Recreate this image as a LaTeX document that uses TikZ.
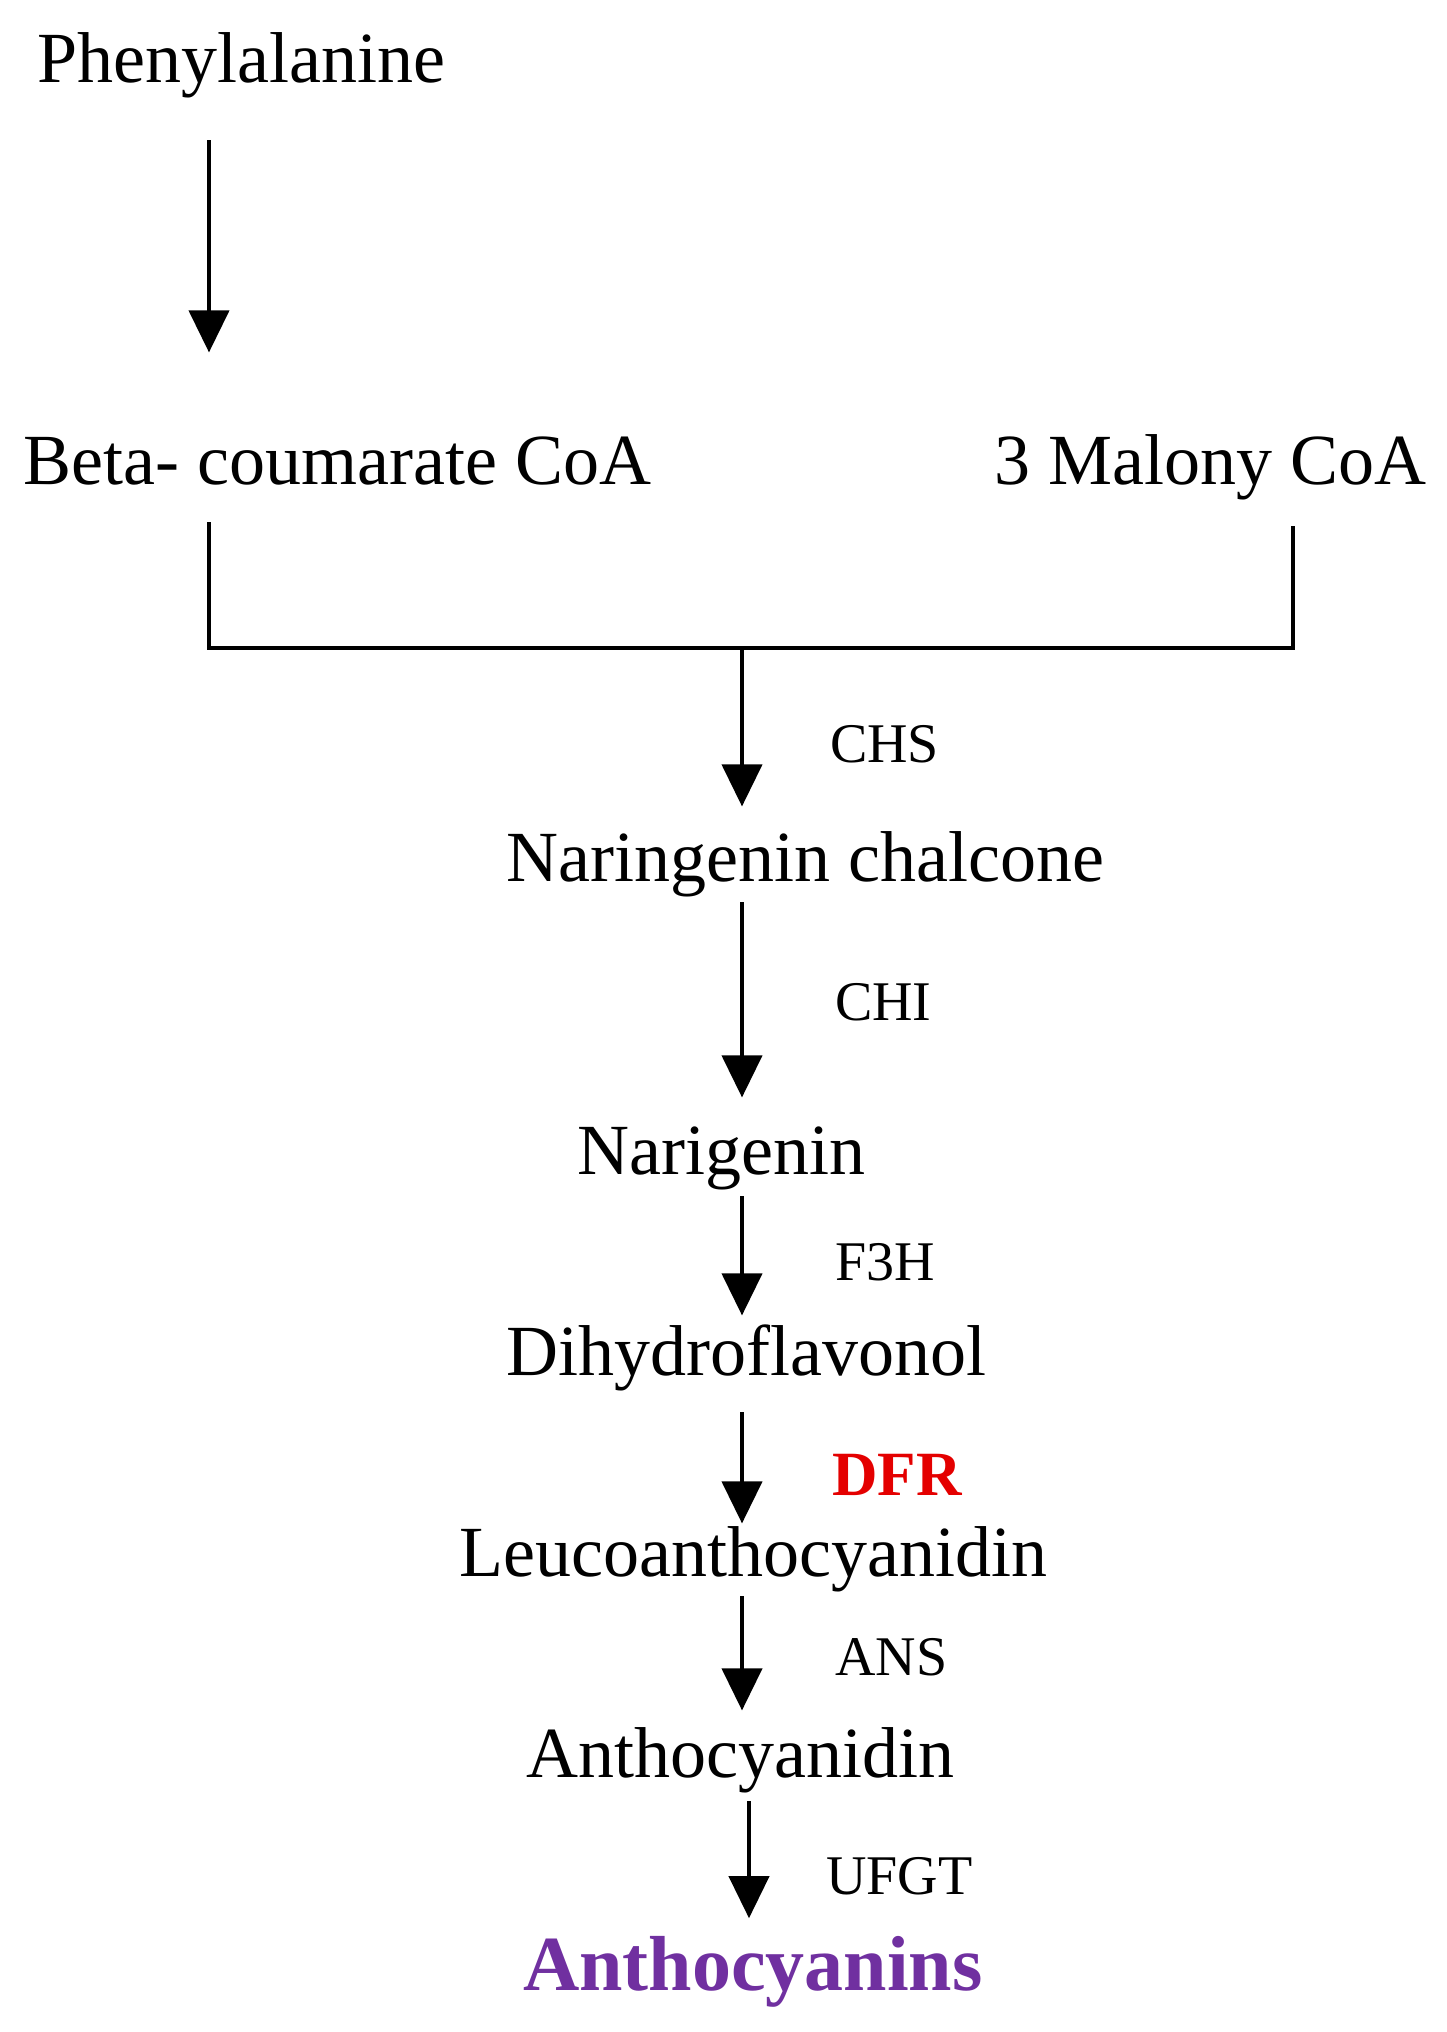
\documentclass[tikz,border=0pt]{standalone}
\usepackage{fontspec}
\setmainfont{Liberation Serif}
\usetikzlibrary{arrows.meta,calc}
\definecolor{dfrred}{RGB}{228,0,0}
\definecolor{anthopurple}{RGB}{112,48,160}
\tikzset{
  chem/.style={anchor=base west, inner sep=0pt, text height=50.4pt, text depth=15.8pt,
               font=\fontsize{72pt}{80pt}\selectfont},
  enz/.style={anchor=base west, inner sep=0pt,
              font=\fontsize{56pt}{62pt}\selectfont},
  conn/.style={line width=4pt, draw=black},
  arr/.style={conn, -{Triangle[length=42pt,width=40pt]}}
}
\begin{document}
\begin{tikzpicture}[x=1pt,y=-1pt]
\useasboundingbox (0,0) rectangle (1447,2032);
% column coordinates
\coordinate (colL) at (209,0);
\coordinate (colR) at (1293,0);
\coordinate (colC) at (742,0);
\coordinate (colD) at (749,0);
% compounds
\node[chem] (phe) at (37,82) {Phenylalanine};
\node[chem] (beta) at (23,484) {Beta- coumarate CoA};
\node[chem] (mal) at (994,484) {3 Malony CoA};
\node[chem] (nch) at (506,881) {Naringenin chalcone};
\node[chem] (nar) at (577,1174) {Narigenin};
\node[chem] (dhf) at (506,1375) {Dihydroflavonol};
\node[chem] (leu) at (459,1576) {Leucoanthocyanidin};
\node[chem] (acd) at (526,1777) {Anthocyanidin};
\node[chem, text height=54.6pt, text depth=17.2pt, font=\fontsize{78pt}{84pt}\selectfont\bfseries, text=anthopurple] (acn) at (523,1990) {Anthocyanins};
% enzymes
\node[enz] (chs) at (830,762) {CHS};
\node[enz] (chi) at (835,1020) {CHI};
\node[enz] (f3h) at (835,1280) {F3H};
\node[enz, font=\fontsize{63pt}{68pt}\selectfont\bfseries, text=dfrred] (dfr) at (832,1495) {DFR};
\node[enz] (ans) at (835,1675) {ANS};
\node[enz] (ufgt) at (826,1894) {UFGT};
% junction
\coordinate (join) at (742,648);
% connectors
\draw[arr, shorten <=42pt, shorten >=81pt] (phe.south -| colL) -- (beta.north -| colL);
\draw[conn] ([yshift=-22pt]beta.south -| colL) |- (join) -| ([yshift=-26pt]mal.south -| colR);
\draw[arr, shorten >=24pt] (join) -- (nch.north -| colC);
\draw[arr, shorten <=5pt, shorten >=26pt] (nch.south -| colC) -- (nar.north -| colC);
\draw[arr, shorten <=6pt, shorten >=9pt] (nar.south -| colC) -- (dhf.north -| colC);
\draw[arr, shorten <=21pt, shorten >=2pt] (dhf.south -| colC) -- (leu.north -| colC);
\draw[arr, shorten <=4pt, shorten >=16pt] (leu.south -| colC) -- (acd.north -| colC);
\draw[arr, shorten <=8pt, shorten >=17pt] (acd.south -| colD) -- (acn.north -| colD);
\end{tikzpicture}
\end{document}
